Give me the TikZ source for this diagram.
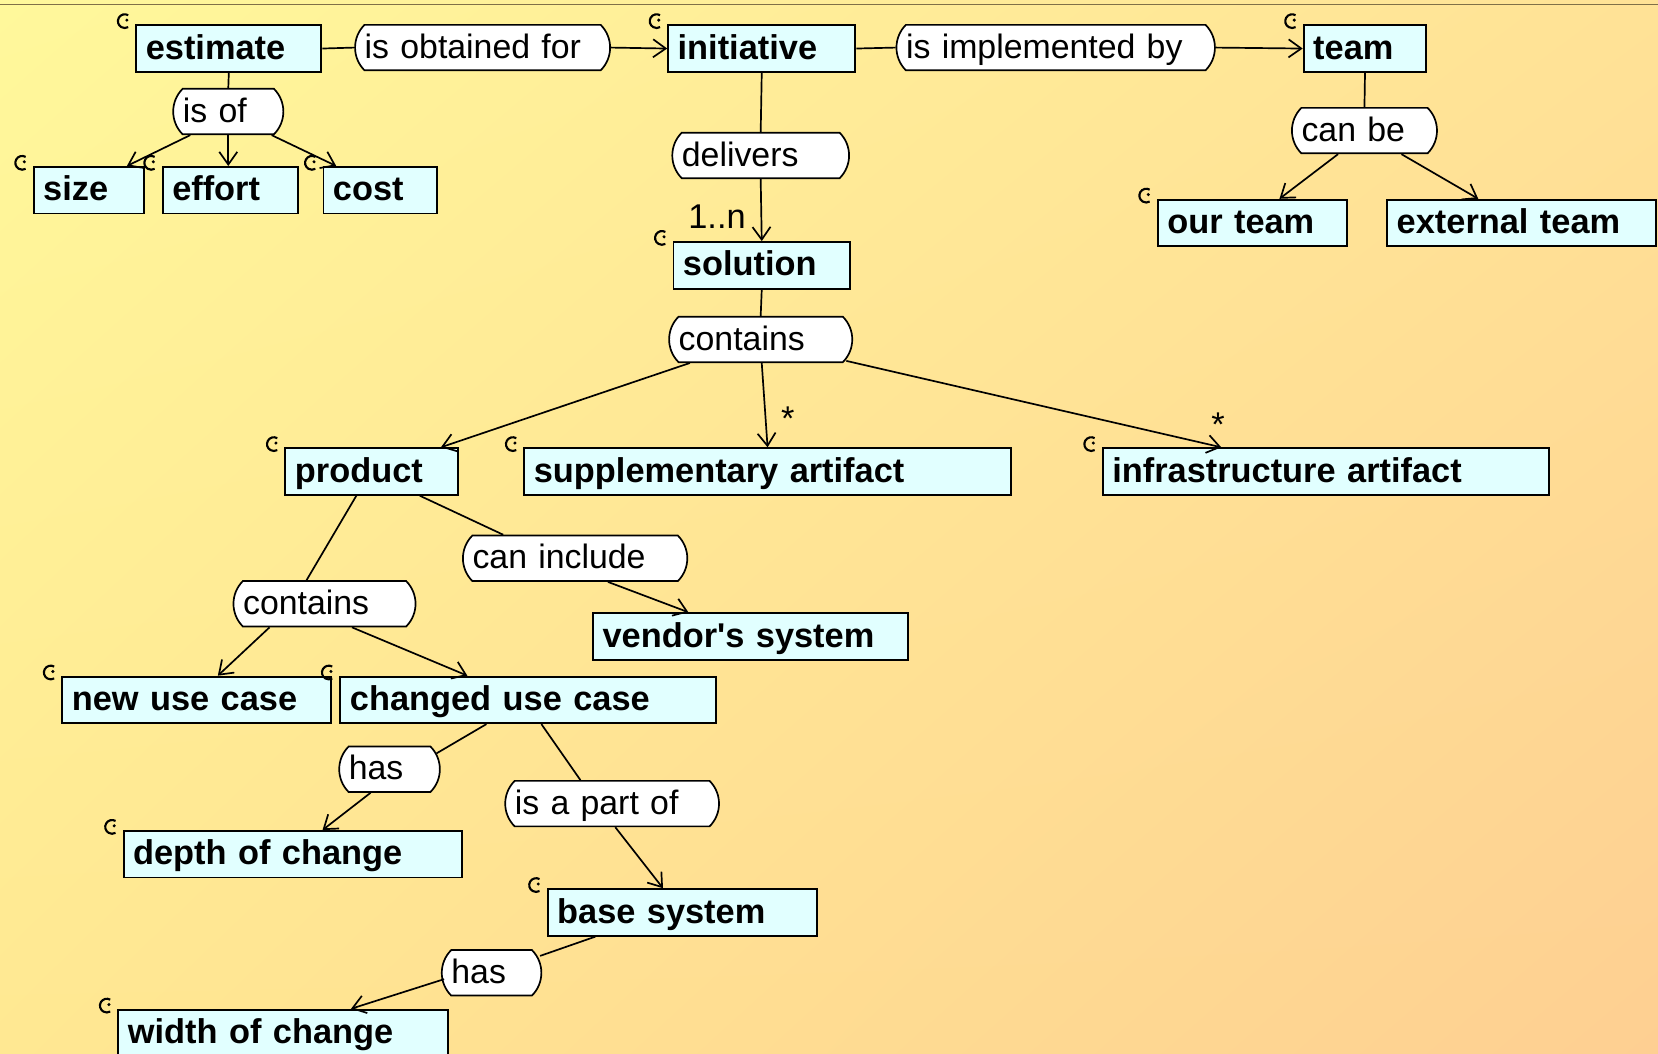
\documentclass[tikz,border=0pt]{standalone}
\usepackage{fontspec}
\setmainfont{Liberation Sans}[Ligatures=TeXOff]
\usetikzlibrary{shapes.misc,arrows.meta,shadings}

\definecolor{bgTL}{RGB}{255,248,155}
\definecolor{bgTR}{RGB}{255,226,150}
\definecolor{bgBL}{RGB}{255,232,146}
\definecolor{bgBR}{RGB}{254,207,146}
\definecolor{frameline}{RGB}{128,112,72}
\definecolor{boxfill}{RGB}{225,255,255}

\tikzset{
  concept/.style={draw=black, line width=1.8pt, fill=boxfill,
    font=\bfseries\fontsize{32.5}{38}\selectfont, anchor=north west,
    inner xsep=9pt, inner ysep=0pt, minimum height=44pt, align=left,
    text height=23.4pt, text depth=3.3pt},
  rel/.style={rounded rectangle, rounded rectangle arc length=90,
    draw=black, line width=1.6pt, fill=white,
    font=\fontsize{32}{38}\selectfont, anchor=west,
    inner xsep=6pt, inner ysep=0pt, minimum height=43pt, align=left,
    text height=23.4pt, text depth=3.3pt},
  link/.style={line width=1.6pt},
  arr/.style={link, -{Straight Barb[length=12pt,width=17pt]}},
  mult/.style={font=\fontsize{32.5}{38}\selectfont, inner sep=0pt},
  cmk/.style={line width=2pt},
}

% small class mark at the upper left corner of a concept box
\newcommand\conceptmark[1]{%
  \draw[cmk] ([xshift=-10pt,yshift=3pt]#1.north west) ++(60:6.5pt)
    arc[start angle=60,end angle=300,radius=6.5pt];
  \fill ([xshift=-8pt,yshift=4pt]#1.north west) circle[radius=1.6pt];}

\begin{document}
\begin{tikzpicture}[x=1pt,y=-1pt]
\useasboundingbox (0,0) rectangle (1568,996);
\shade[upper left=bgTL, upper right=bgTR, lower left=bgBL, lower right=bgBR]
  (0,0) rectangle (1568,996);
\draw[frameline, line width=1.3pt] (0,4) -- (1568,4);

% concepts
\node[concept, text width=157pt] (estimate)   at (128,23)  {estimate};
\node[concept, text width=159pt] (initiative) at (631,23)  {initiative};
\node[concept, text width=98pt]  (team)       at (1232,23) {team};
\node[concept, text width=86pt]  (size)       at (31,157)  {size};
\node[concept, text width=110pt] (effort)     at (153,157) {effort};
\node[concept, text width=89pt]  (cost)       at (305,157) {cost};
\node[concept, text width=161pt] (ourteam)    at (1094,188) {our team};
\node[concept, text width=236pt] (extteam)    at (1311,188) {external team};
\node[concept, text width=149pt] (solution)   at (636,228) {solution};
\node[concept, text width=145pt] (product)    at (269,423) {product};
\node[concept, text width=442pt] (supp)       at (495,423) {supplementary artifact};
\node[concept, text width=404pt] (infra)      at (1042,423) {infrastructure artifact};
\node[concept, text width=280pt] (vendor)     at (560,579) {vendor's system};
\node[concept, text width=236pt] (newuc)      at (58,639)  {new use case};
\node[concept, text width=337pt] (changeduc)  at (321,639) {changed use case};
\node[concept, text width=302pt] (depth)      at (116,785) {depth of change};
\node[concept, text width=237pt] (base)       at (517,840) {base system};
\node[concept, text width=294pt] (width)      at (111,954) {width of change};

% relation labels
\node[rel, text width=223pt] (obtained)    at (335,45)    {is obtained for};
\node[rel, text width=283pt] (implemented) at (847,45)    {is implemented by};
\node[rel, text width=86pt]  (isof)        at (163,105.5) {is of};
\node[rel, text width=149pt] (delivers)    at (635,147)   {delivers};
\node[rel, text width=119pt] (canbe)       at (1221,123.5) {can be};
\node[rel, text width=155pt] (contains1)   at (632,321)   {contains};
\node[rel, text width=194pt] (caninclude)  at (437,528)   {can include};
\node[rel, text width=154pt] (contains2)   at (220,571)   {contains};
\node[rel, text width=77pt]  (has1)        at (320,727.5) {has};
\node[rel, text width=184pt] (partof)      at (477,760)   {is a part of};
\node[rel, text width=76pt]  (has2)        at (417,920)   {has};

% connectors
\draw[link] (estimate.east) -- (obtained.west);
\draw[arr]  (obtained.east) -- (initiative.west);
\draw[link] (initiative.east) -- (implemented.west);
\draw[arr]  (implemented.east) -- (team.west);

\draw[link] (estimate.south) -- (isof.north);
\draw[arr]  ([xshift=-36pt]isof.south) -- ([xshift=89pt]size.north west);
\draw[arr]  (isof.south) -- (isof.south |- effort.north);
\draw[arr]  ([xshift=41pt]isof.south) -- ([xshift=13pt]cost.north west);

\draw[link] (initiative.south) -- (delivers.north);
\draw[arr]  (delivers.south) -- node[mult, pos=0.6, left=14pt] (mult1) {1..n} (solution.north);

\draw[link] (team.south) -- (canbe.north);
\draw[arr]  ([xshift=-25pt]canbe.south) -- ([xshift=116pt]ourteam.north west);
\draw[arr]  ([xshift=35pt]canbe.south) -- ([xshift=87pt]extteam.north west);

\draw[link] (solution.south) -- (contains1.north);
\draw[arr]  ([xshift=-67pt]contains1.south) -- ([xshift=148pt]product.north west);
\draw[arr]  ([xshift=1pt]contains1.south) -- (supp.north);
\draw[arr]  ([xshift=81pt,yshift=2pt]contains1.south) -- ([xshift=113pt]infra.north west);
\node[mult, anchor=north] (star1) at ([xshift=250pt,yshift=38pt]supp.north west) {*};
\node[mult, anchor=north] (star2) at ([xshift=110pt,yshift=33pt]infra.north west) {*};

\draw[link] ([xshift=68pt]product.south west) -- ([xshift=-17pt]contains2.north);
\draw[arr]  ([xshift=-52pt]contains2.south) -- ([xshift=148pt]newuc.north west);
\draw[arr]  ([xshift=26pt]contains2.south) -- ([xshift=121pt]changeduc.north west);

\draw[link] ([xshift=128pt]product.south west) -- ([xshift=-68pt]caninclude.north);
\draw[arr]  ([xshift=31pt]caninclude.south) -- ([xshift=91pt]vendor.north west);

\draw[link] ([xshift=139pt]changeduc.south west) -- ([xshift=-4pt,yshift=15pt]has1.east);
\draw[arr]  ([xshift=-18pt]has1.south) -- ([xshift=189pt]depth.north west);

\draw[link] ([xshift=191pt]changeduc.south west) -- ([xshift=-30pt]partof.north);
\draw[arr]  ([xshift=3pt]partof.south) -- ([xshift=110pt]base.north west);

\draw[link] ([xshift=46pt]base.south west) -- ([xshift=-2pt,yshift=16pt]has2.east);
\draw[arr]  ([xshift=3pt,yshift=-6pt]has2.west) -- ([xshift=221pt]width.north west);

% class marks
\foreach \c in {estimate,initiative,team,size,effort,cost,ourteam,solution,
  product,supp,infra,newuc,changeduc,depth,base,width}
  {\conceptmark{\c}}
\end{tikzpicture}
\end{document}
